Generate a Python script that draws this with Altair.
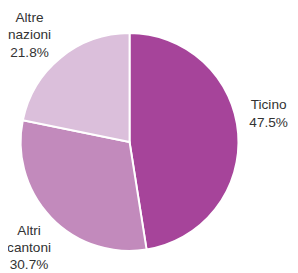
import altair as alt
import pandas as pd

categories = ["Ticino", "Altri cantoni", "Altre nazioni"]
shares = [47.5, 30.7, 21.8]
label_lines = ["Ticino", "Altri\ncantoni", "Altre\nnazioni"]
colors = ["#a6449a", "#c28abc", "#dbbfdb"]

df = pd.DataFrame({
    "category": categories,
    "share": shares,
    "order": list(range(len(categories))),
    "label": [f"{l}\n{s:.1f}%" for l, s in zip(label_lines, shares)],
})

theta_scale = alt.Scale(domain=[0, 100])

base = (
    alt.Chart(df)
    .transform_window(cum="sum(share)", sort=[alt.SortField("order")], frame=[None, 0])
    .transform_calculate(start="datum.cum - datum.share", mid="datum.cum - datum.share / 2")
)

arcs = base.mark_arc(outerRadius=112, stroke="white", strokeWidth=2).encode(
    theta=alt.Theta("start:Q", scale=theta_scale),
    theta2="cum:Q",
    color=alt.Color("category:N", scale=alt.Scale(domain=categories, range=colors), legend=None),
)

label_style = {
    "Ticino": dict(dx=-6.5, dy=-33, lineHeight=18.5),
    "Altri cantoni": dict(dx=5, dy=-19.5, lineHeight=17.5),
    "Altre nazioni": dict(dx=-8, dy=-18.5, lineHeight=18),
}

layers = [arcs]
for cat in categories:
    s = label_style[cat]
    layers.append(
        base.transform_filter(alt.datum.category == cat)
        .mark_text(
            radius=150,
            dx=s["dx"],
            dy=s["dy"],
            align="center",
            baseline="top",
            lineBreak="\n",
            lineHeight=s["lineHeight"],
            font="Liberation Sans",
            fontSize=14,
            color="#333333",
        )
        .encode(theta=alt.Theta("mid:Q", scale=theta_scale), text="label:N")
    )

chart = (
    alt.layer(*layers)
    .properties(
        width=250,
        height=246,
        autosize=alt.AutoSizeParams(type="none"),
        padding={"left": 0, "top": 11, "right": 40, "bottom": 12},
    )
    .configure_view(stroke=None)
)

chart.save("out.html", embed_options={"renderer": "svg", "actions": False})
